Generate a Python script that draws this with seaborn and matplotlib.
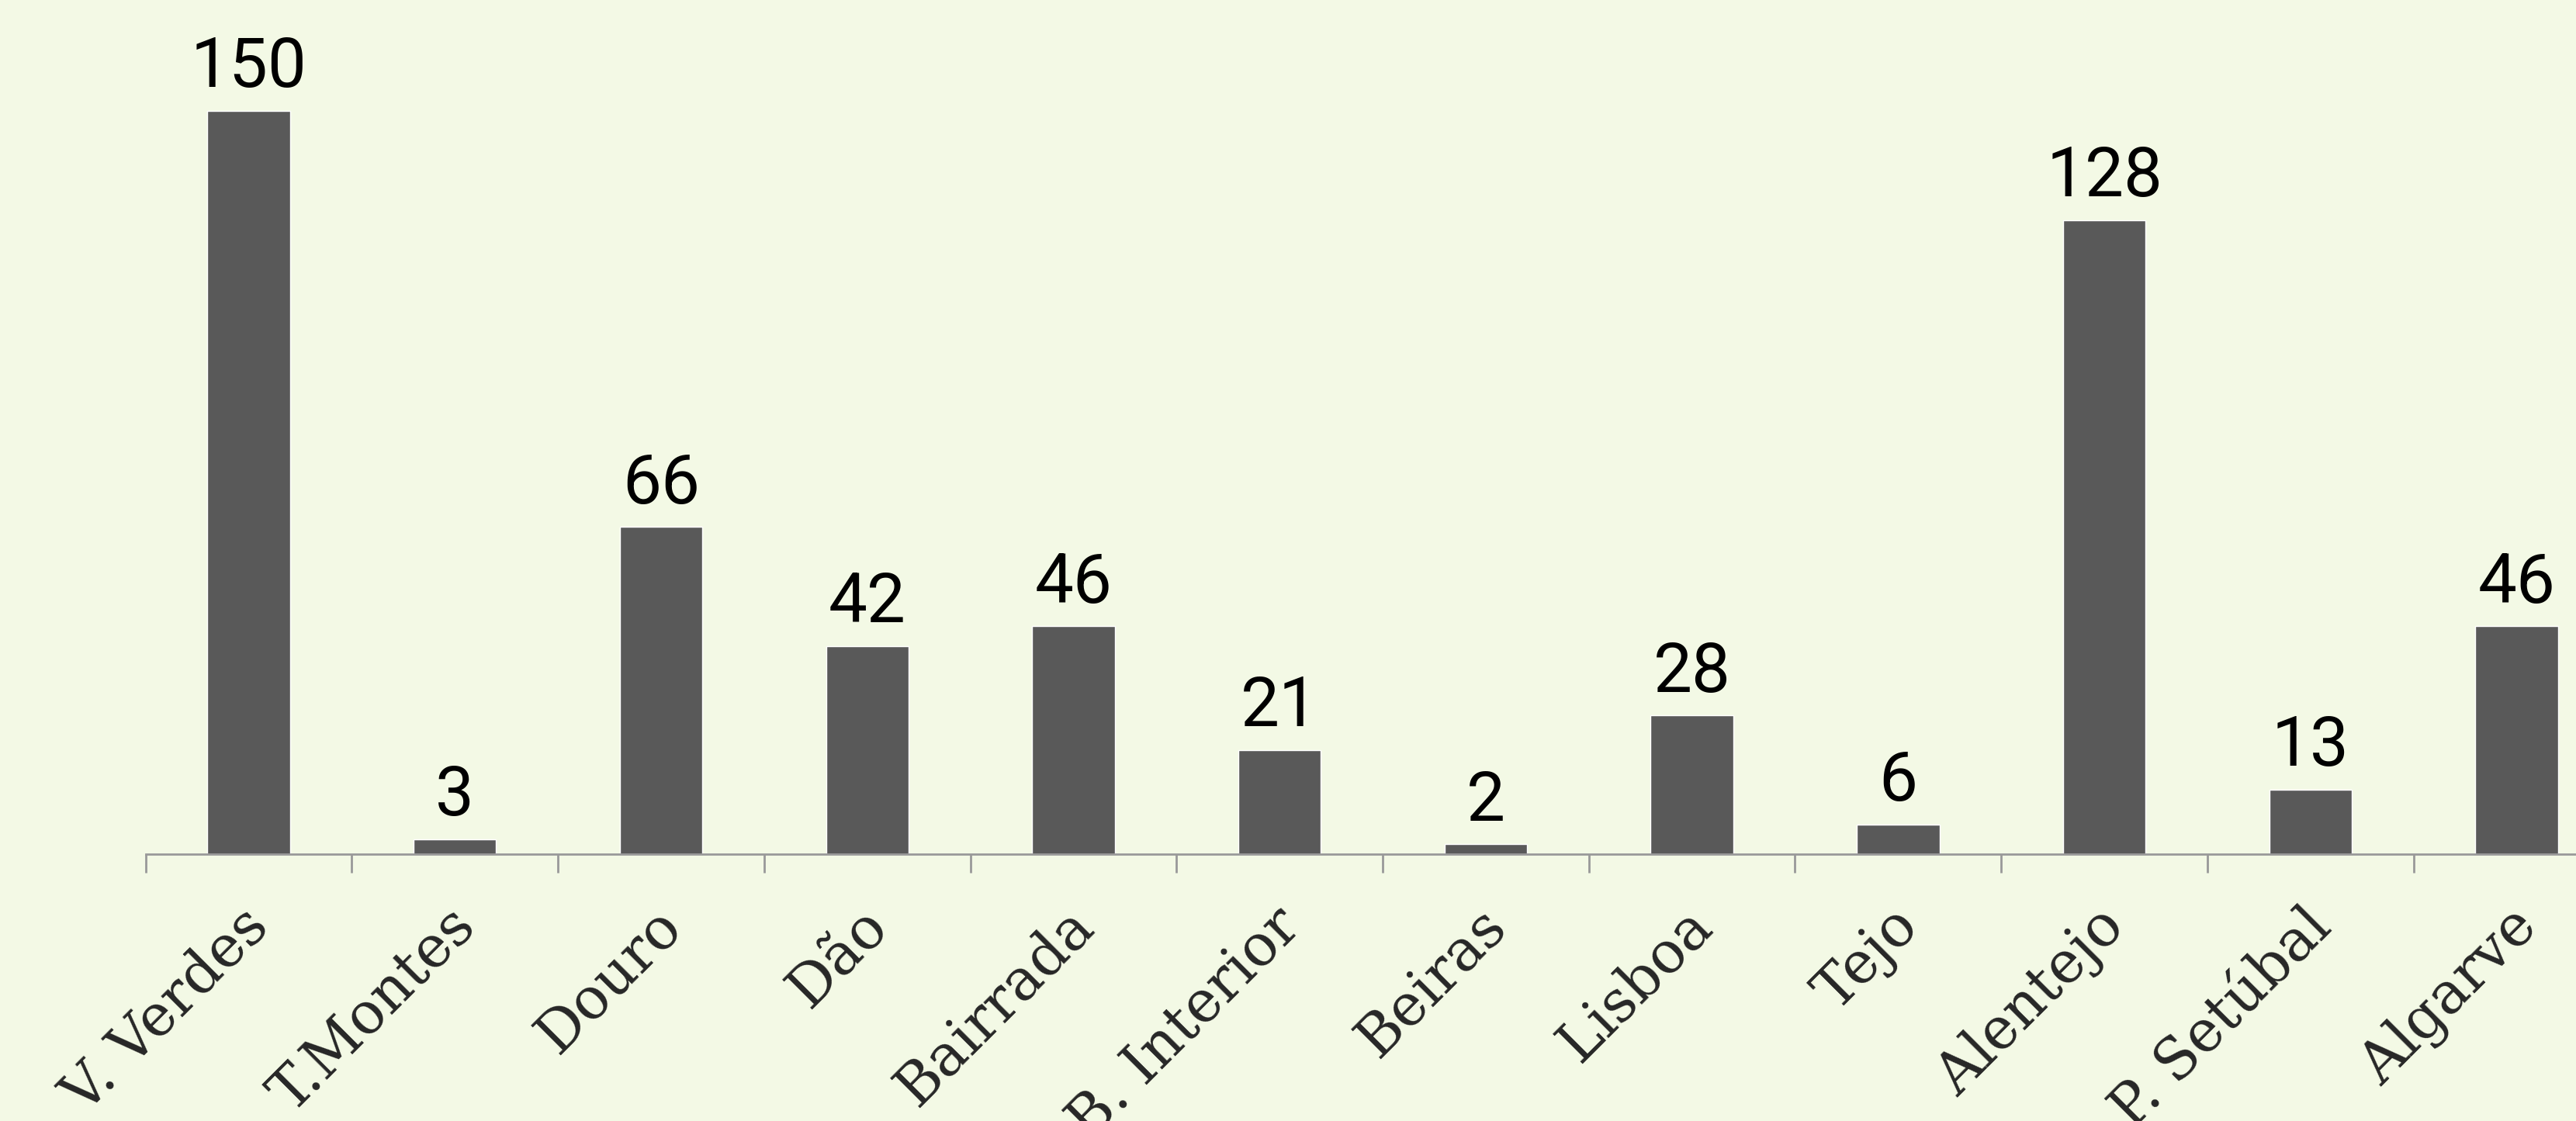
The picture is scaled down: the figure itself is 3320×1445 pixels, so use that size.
#!/usr/bin/env python3
"""Bar chart of counts per wine region."""
import matplotlib
matplotlib.use('Agg')
import matplotlib.pyplot as plt
import matplotlib.transforms as mtransforms
from matplotlib.ticker import FixedLocator
import seaborn as sns

# Data
regions = ['V. Verdes', 'T.Montes', 'Douro', 'Dão', 'Bairrada', 'B. Interior',
           'Beiras', 'Lisboa', 'Tejo', 'Alentejo', 'P. Setúbal', 'Algarve']
counts = [150, 3, 66, 42, 46, 21, 2, 28, 6, 128, 13, 46]

BG = '#F3F9E5'
BAR = '#595959'
AXIS = '#999999'


def main():
    sns.set_style('white')
    plt.rcParams['font.family'] = ['DejaVu Serif']

    fig = plt.figure(figsize=(33.2, 14.45), dpi=100, facecolor=BG)
    # axes extends a little past the right edge, like the original crop
    ax = fig.add_axes([0.0565, 0.2381, 0.9605, 0.7619])
    ax.set_facecolor(BG)

    sns.barplot(x=regions, y=counts, color=BAR, saturation=1, width=0.4, ax=ax)

    ax.set_xlim(-0.5, len(regions) - 0.5)
    ax.set_ylim(0, 172.4)

    for i, v in enumerate(counts):
        ax.annotate(str(v), (i, v), xytext=(0, 22), textcoords='offset points',
                    ha='center', va='baseline', fontsize=64, family='Roboto',
                    color='black')

    # spines
    for side in ['top', 'right', 'left']:
        ax.spines[side].set_visible(False)
    ax.spines['bottom'].set_color(AXIS)
    ax.spines['bottom'].set_linewidth(2)
    ax.set_yticks([])
    ax.set_ylabel('')
    ax.set_xlabel('')

    # separator ticks between categories
    ax.xaxis.set_minor_locator(FixedLocator([i - 0.5 for i in range(len(regions) + 1)]))
    ax.tick_params(axis='x', which='minor', bottom=True, length=17, width=2,
                   color=AXIS, direction='out')
    ax.tick_params(axis='x', which='major', bottom=True, length=0, pad=59)

    ax.set_xticks(range(len(regions)))
    ax.set_xticklabels(regions, rotation=45, ha='right', va='center',
                       rotation_mode='anchor', fontsize=53, family='DejaVu Serif')
    shift = mtransforms.ScaledTranslation(15 / 100, 0, fig.dpi_scale_trans)
    for lbl in ax.get_xticklabels():
        lbl.set_transform(lbl.get_transform() + shift)

    fig.savefig('out.png', dpi=100, facecolor=BG)
    plt.close(fig)


if __name__ == '__main__':
    main()
